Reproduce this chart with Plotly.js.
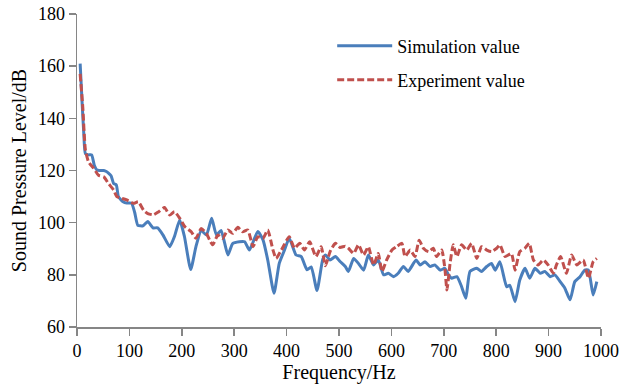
<!DOCTYPE html>
<html>
<head>
<meta charset="utf-8">
<script src="https://cdn.plot.ly/plotly-3.0.1.min.js"></script>
<style>html,body{margin:0;padding:0;background:#fff;}#chart{width:621px;height:386px;}</style>
</head>
<body>
<div id="chart"></div>
<script>
var simFreq = [6,10,13,16,22,28,33,38,43,51,56,60,65,70,75,79,88,95,104,110,116,126,135,145,154,164,177,186,196,205,217,227,237,247,257,266,275,288,297,310,320,329,345,355,364,376,386,396,405,418,428,439,447,458,469,474,483,493,502,512,518,528,537,547,556,566,575,585,594,604,613,623,632,647,655,664,674,683,693,702,709,715,725,733,742,750,763,772,782,791,798,807,820,826,836,845,855,864,874,884,893,903,912,922,931,941,950,960,969,976,985,992];
var simSPL = [161,145,134,126.5,126,126,122,120.2,120,120,119.6,119,118,115,114.5,110,108,107.5,107.5,104,99,98.8,100.4,98,98,95.3,90.8,94.7,101,94.7,82,90.8,97,95.3,101.7,95.3,97,87.6,92,92.7,92.7,89.5,96.6,93.4,85.7,72.9,84.4,89.5,94,87.6,87,81.9,83,74,86,87.6,85.7,87,85.1,83.2,81.3,86.3,84.4,81.8,87.6,83.8,85.7,80,80.6,79.3,80.6,83.2,81.3,85.7,83.8,85,83.2,83.8,81.8,82.5,80,78.7,79.3,76,71,81.3,82.5,81.3,83.2,84.4,81.8,85,75.4,76,69.7,78,82.5,78.7,82.5,80.6,81.3,79.3,80,77.4,74.9,70.4,77.4,79.3,81.8,81.8,72.3,77.4];
var expFreq = [6,11,16,22,32,41,51,60,70,76,86,95,108,117,127,135,146,156,167,177,186,196,206,218,227,237,247,253,259,269,278,288,297,307,316,326,336,345,355,364,374,380,390,405,415,425,434,444,456,466,474,483,493,502,512,518,528,537,547,556,566,575,582,591,601,610,620,626,636,645,653,661,671,680,686,696,702,706,712,718,725,734,744,753,763,772,782,791,801,807,817,829,836,845,855,863,871,880,890,899,909,915,923,934,944,954,966,976,985,992];
var expSPL = [157,144.4,128,123.3,120.8,118.2,117.6,115,112.5,110,109.3,108.7,107.4,108,104.8,103.5,103,104.2,105.8,102.9,104.2,101.7,98.4,96.5,94,97.8,95.9,93.4,91.5,95.3,94,97.2,95.9,98.2,96.5,97.2,90.8,94.6,94,97.2,89.5,86.3,89.5,94.6,90.2,92.1,89.5,92.7,87,90.8,83.5,88.9,92.1,90.5,91,90.2,88.2,91.5,87.6,90.8,83.8,88.2,81.3,85.7,89.5,90.8,92.1,87,89.5,87,93.3,90.2,88.9,90.2,87,89.5,82.5,74.2,84.4,91.5,87,91.5,89.5,92.1,86.3,90.8,89.5,88.9,90.2,91.5,87,88.2,81.8,88.9,90.2,92.1,85.7,83.8,85.7,83.8,80.6,83.8,87,80.6,87.6,83.8,85.7,78.7,85,86.3];
var xTicks = [0,100,200,300,400,500,600,700,800,900,1000];
var yTicks = [60,80,100,120,140,160,180];

var font = 'Liberation Serif, Times New Roman, serif';
var traces = [
  {x: simFreq, y: simSPL, type: 'scatter', mode: 'lines', name: 'Simulation value',
   line: {color: '#4a7ebb', width: 3, shape: 'spline', smoothing: 0.5}, legend: 'legend'},
  {x: expFreq, y: expSPL, type: 'scatter', mode: 'lines', name: 'Experiment value',
   line: {color: '#c0504d', width: 3, dash: '7px,3px', shape: 'spline', smoothing: 0.5}, legend: 'legend2'}
];
var axisCommon = {
  showline: true, linecolor: '#868686', linewidth: 1.5, ticks: 'outside', ticklen: 7,
  tickcolor: '#868686', tickwidth: 1.5, showgrid: false, zeroline: false,
  tickfont: {family: font, size: 18, color: '#000'}
};
var legendCommon = {
  xanchor: 'left', yanchor: 'middle', bgcolor: 'rgba(0,0,0,0)', borderwidth: 0,
  font: {family: font, size: 18, color: '#000'}, itemwidth: 55
};
var layout = {
  width: 621, height: 386,
  margin: {l: 77, r: 20, t: 14, b: 59},
  paper_bgcolor: '#fff', plot_bgcolor: '#fff',
  showlegend: true,
  xaxis: Object.assign({}, axisCommon, {range: [0, 1000], tickvals: xTicks,
    title: {text: 'Frequency/Hz', font: {family: font, size: 20, color: '#000'}, standoff: 4}}),
  yaxis: Object.assign({}, axisCommon, {range: [60, 180], tickvals: yTicks,
    title: {text: 'Sound Pressure Level/dB', font: {family: font, size: 20, color: '#000'}, standoff: 6}}),
  legend: Object.assign({}, legendCommon, {x: 0.487, y: (327 - 46) / 313}),
  legend2: Object.assign({}, legendCommon, {x: 0.487, y: (327 - 80) / 313})
};
Plotly.newPlot('chart', traces, layout, {displayModeBar: false, staticPlot: true});
</script>
</body>
</html>
